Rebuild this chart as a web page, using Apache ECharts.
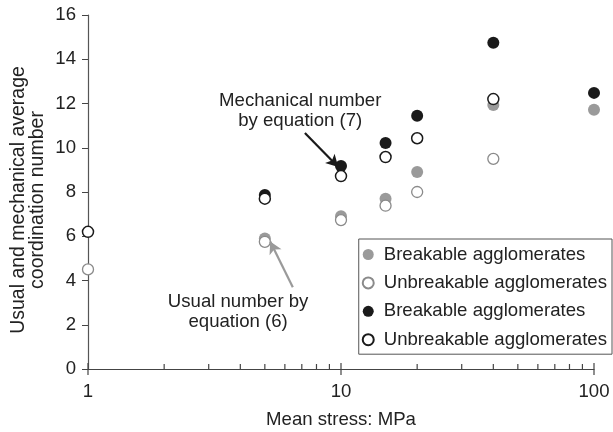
<!DOCTYPE html>
<html>
<head>
<meta charset="utf-8">
<script src="https://cdn.jsdelivr.net/npm/echarts@6/dist/echarts.min.js"></script>
<style>
html,body{margin:0;padding:0;background:#fff;}
#c{width:613px;height:432px;}
</style>
</head>
<body>
<div id="c"></div>
<script>
// Data
const seriesNames = ['Breakable agglomerates', 'Unbreakable agglomerates', 'Breakable agglomerates', 'Unbreakable agglomerates'];
const usualBreakable = [[5, 5.9], [10, 6.9], [15, 7.7], [20, 8.9], [40, 11.93], [100, 11.72]];
const usualUnbreakable = [[1, 4.5], [5, 5.75], [10, 6.73], [15, 7.38], [20, 8.0], [40, 9.5]];
const mechBreakable = [[5, 7.86], [10, 9.17], [15, 10.22], [20, 11.45], [40, 14.75], [100, 12.48]];
const mechUnbreakable = [[1, 6.2], [5, 7.7], [10, 8.72], [15, 9.58], [20, 10.43], [40, 12.2]];
const majorTicksX = [1, 10, 100];
const minorTicksX = [2, 3, 4, 5, 6, 7, 8, 9, 20, 30, 40, 50, 60, 70, 80, 90];
const annoMech = { text: 'Mechanical number\nby equation (7)', at: [6.9, 11.65], from: [7.2, 10.67], to: [9.75, 9.13] };
const annoUsual = { text: 'Usual number by\nequation (6)', at: [3.92, 2.6], from: [6.45, 3.7], to: [5.25, 5.76] };

const FONT = 'Liberation Sans, Arial, sans-serif';
const TXT = '#222';
const GRAY = '#9a9a9a';
const BLACK = '#1a1a1a';

const chart = echarts.init(document.getElementById('c'), null, { renderer: 'canvas' });

const tickSeries = (vals, h, off) => ({
  type: 'scatter', silent: true, clip: false, z: 1,
  data: vals.map(v => [v, 0]),
  symbol: 'rect', symbolSize: [1.2, h], symbolOffset: [0, off],
  itemStyle: { color: '#444', opacity: 1 },
  tooltip: { show: false }, legendHoverLink: false
});

chart.setOption({
  animation: false,
  textStyle: { fontFamily: FONT },
  grid: { left: 88, right: 19, top: 15, bottom: 63, containLabel: false, outerBoundsMode: 'none' },
  legend: {
    orient: 'vertical', right: 1, top: 239,
    data: [0, 1, 2, 3].map(i => ({ name: seriesNames[i] + (i >= 2 ? '\u200b' : '') })),
    icon: 'circle', itemWidth: 11, itemHeight: 11, itemGap: 9.4,
    padding: [6, 5, 5, 3],
    borderColor: '#555', borderWidth: 1,
    textStyle: { fontSize: 18.6, color: TXT, fontFamily: FONT, padding: [0, 0, 0, 5] },
    selectedMode: false
  },
  xAxis: {
    type: 'log', logBase: 10, min: 1, max: 100,
    name: 'Mean stress: MPa', nameLocation: 'middle', nameGap: 41, nameMoveOverlap: false,
    nameTextStyle: { fontSize: 18.6, color: TXT, fontFamily: FONT },
    axisLine: { lineStyle: { color: '#444', width: 1.2 } },
    axisTick: { show: false },
    axisLabel: { fontSize: 18.6, color: TXT, margin: 13, fontFamily: FONT },
    splitLine: { show: false }
  },
  yAxis: {
    type: 'value', min: 0, max: 16, interval: 2,
    name: 'Usual and mechanical average\ncoordination number', nameLocation: 'middle', nameGap: 41, nameMoveOverlap: false,
    nameTextStyle: { fontSize: 19.5, color: TXT, fontFamily: FONT, lineHeight: 19, padding: [0, 16, 0, 0] },
    axisLine: { show: true, lineStyle: { color: '#555', width: 1.2 } },
    axisTick: { show: true, inside: false, length: 6, lineStyle: { color: '#444' } },
    axisLabel: { fontSize: 18.6, color: TXT, margin: 12, fontFamily: FONT },
    splitLine: { show: false }
  },
  series: [
    {
      name: seriesNames[0], type: 'scatter', data: usualBreakable, symbolSize: 12, z: 3,
      itemStyle: { color: GRAY, opacity: 1 }
    },
    {
      name: seriesNames[1], type: 'scatter', data: usualUnbreakable, symbolSize: 11, z: 4,
      itemStyle: { color: '#fff', borderColor: '#8a8a8a', borderWidth: 1.3, opacity: 1 }
    },
    {
      name: seriesNames[2] + '\u200b', type: 'scatter', data: mechBreakable, symbolSize: 12, z: 5,
      itemStyle: { color: BLACK, opacity: 1 }
    },
    {
      name: seriesNames[3] + '\u200b', type: 'scatter', data: mechUnbreakable, symbolSize: 11, z: 6,
      itemStyle: { color: '#fff', borderColor: BLACK, borderWidth: 1.5, opacity: 1 }
    },
    tickSeries(minorTicksX, 5, -2.5),
    tickSeries(majorTicksX, 12, 0),
    {
      type: 'scatter', silent: true, z: 10, clip: false,
      data: [annoMech.at, annoUsual.at].map((p, i) => ({ value: p, label: { formatter: i === 0 ? annoMech.text : annoUsual.text } })),
      symbolSize: 2, itemStyle: { color: 'rgba(0,0,0,0)', opacity: 1 },
      label: { show: true, position: 'inside', align: 'center', verticalAlign: 'middle', fontSize: 18.6, lineHeight: 20, color: TXT, fontFamily: FONT },
      markLine: {
        silent: true, symbol: ['none', 'arrow'], symbolSize: [10, 12], label: { show: false },
        data: [
          [{ coord: annoMech.from, lineStyle: { color: BLACK, width: 2.2, type: 'solid' } }, { coord: annoMech.to }],
          [{ coord: annoUsual.from, lineStyle: { color: GRAY, width: 2.2, type: 'solid' } }, { coord: annoUsual.to }]
        ]
      }
    }
  ]
});
</script>
</body>
</html>
